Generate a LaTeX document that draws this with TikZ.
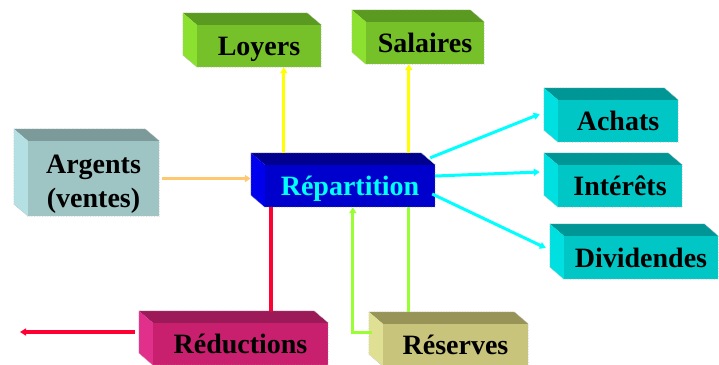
\documentclass[tikz,border=0pt]{standalone}
\usepackage{fontspec}
\setmainfont{Liberation Serif}
\usetikzlibrary{arrows.meta,calc}
\definecolor{leaf}{HTML}{76C02A}
\definecolor{leafTop}{HTML}{5A9A20}
\definecolor{leafSide}{HTML}{8CE030}
\definecolor{sea}{HTML}{00C6C6}
\definecolor{seaTop}{HTML}{009696}
\definecolor{seaSide}{HTML}{00E0E0}
\definecolor{slate}{HTML}{9EC4C4}
\definecolor{slateTop}{HTML}{7C9A9A}
\definecolor{slateSide}{HTML}{B4E0E4}
\definecolor{navy}{HTML}{0000CC}
\definecolor{navyTop}{HTML}{000090}
\definecolor{navySide}{HTML}{0000EC}
\definecolor{plum}{HTML}{C8206E}
\definecolor{plumTop}{HTML}{9C1A58}
\definecolor{plumSide}{HTML}{E0308C}
\definecolor{sand}{HTML}{C8C47C}
\definecolor{sandTop}{HTML}{989458}
\definecolor{sandSide}{HTML}{E0E094}
\definecolor{flowOrange}{HTML}{FFC870}
\definecolor{flowYellow}{HTML}{FFFF00}
\definecolor{flowCyan}{HTML}{00FFFF}
\definecolor{flowRed}{HTML}{FF0033}
\definecolor{flowGreen}{HTML}{99FF33}
\tikzset{
  cube/.style={fill=#1,minimum height=42pt,inner sep=0pt,text depth=0pt,
    font=\fontsize{28}{34}\selectfont\bfseries},
  link/.style={line width=3pt},
  flow/.style={link,-{Triangle[length=6pt,width=7pt]}}
}
\begin{document}
\begin{tikzpicture}[x=1pt,y=-1pt]
  \useasboundingbox (0,0) rectangle (719,364);
  \clip (0,0) rectangle (719,364);
  \node[cube=leaf,minimum width=124pt] (loyers) at (259,46) {Loyers};
  \node[cube=leaf,minimum width=118pt] (salaires) at (425,43) {Salaires};
  \node[cube=sea,minimum width=120pt] (achats) at (618,121) {Achats};
  \node[cube=sea,minimum width=124pt] (interets) at (620,186) {Intérêts};
  \node[cube=sea,minimum width=154pt,minimum height=43pt] (dividendes) at (641,257.5) {Dividendes};
  \node[cube=slate,minimum width=131pt,minimum height=75pt,text depth=,align=center] (argents) at (93.5,178.5) {};
  \node[font=\fontsize{28}{34}\selectfont\bfseries,align=center,inner sep=0pt] (argentsText) at (93.5,184) {Argents\\(ventes)};
  \node[cube=navy,minimum width=170pt,text=flowCyan] (rep) at (350,186) {Répartition};
  \node[cube=plum,minimum width=175pt] (reductions) at (240.5,344) {Réductions};
  \node[cube=sand,minimum width=145pt] (reserves) at (455.5,345) {Réserves};
  \foreach \nm/\tone in {loyers/leaf,salaires/leaf,achats/sea,interets/sea,dividendes/sea,
      argents/slate,rep/navy,reductions/plum,reserves/sand}{
    \fill[\tone Top] (\nm.north west) -- ++(-14,-12) -- ($(\nm.north east)+(-14,-12)$) -- (\nm.north east) -- cycle;
    \fill[\tone Side] (\nm.north west) -- ++(-14,-12) -- ($(\nm.south west)+(-14,-12)$) -- (\nm.south west) -- cycle;
    \draw[gray!45,densely dotted,line width=0.6pt] (\nm.south west) -- (\nm.south east) -- (\nm.north east)
      -- ($(\nm.north east)+(-14,-12)$) -- ($(\nm.north west)+(-14,-12)$) -- ($(\nm.south west)+(-14,-12)$) -- cycle;
  }
  \coordinate (exit) at (20,332);
  \draw[flow,flowOrange,line width=3.5pt,shorten <=3pt] (argents.east) -- ($(argents.east -| rep.west)+(-14,0)$);
  \draw[flow,flowYellow] ($(rep.north west)+(19,-12)$) coordinate (up1) -- (up1 |- loyers.south);
  \draw[flow,flowYellow] ($(rep.north west)+(144,-12)$) coordinate (up2) -- (up2 |- salaires.south);
  \draw[flow,flowCyan] ($(rep.north east)+(-5,-7)$) -- ($(achats.west)+(-18,-7)$);
  \draw[flow,flowCyan] ($(rep.east)+(0,-10)$) -- ($(interets.west)+(-18,-14)$);
  \draw[flow,flowCyan] ($(rep.east)+(-3,8)$) -- ($(dividendes.west)+(-18,-9.5)$);
  \draw[link,flowRed,line width=4pt] ($(rep.south west)+(6,0)$) coordinate (down1) -- ($(down1 |- reductions.north)+(0,-12)$);
  \draw[flow,flowRed,line width=4pt] ($(reductions.west)+(-18,-12)$) -- (exit);
  \draw[link,flowGreen] ($(rep.south west)+(144,0)$) coordinate (down2) -- ($(down2 |- reserves.north)+(0,-12)$);
  \draw[flow,flowGreen] ($(reserves.west)+(-11,-13)$) -| ($(rep.south west)+(88,0)$);
\end{tikzpicture}
\end{document}
